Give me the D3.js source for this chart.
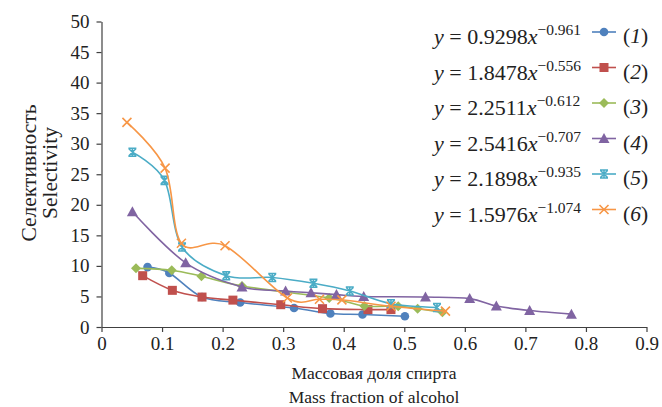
<!DOCTYPE html>
<html><head><meta charset="utf-8">
<script src="https://cdn.jsdelivr.net/npm/d3@7"></script>
<style>body{margin:0;background:#fff}svg{display:block}</style>
</head><body>
<svg id="c" width="662" height="407"></svg>
<script>
const xTicks = [0,0.1,0.2,0.3,0.4,0.5,0.6,0.7,0.8,0.9];
const yTicks = [0,5,10,15,20,25,30,35,40,45,50];
const s1x = [0.076,0.112,0.166,0.229,0.318,0.378,0.431,0.501];
const s1y = [9.8,8.85,4.9,4.0,3.1,2.2,2.05,1.75];
const s2x = [0.068,0.117,0.166,0.217,0.296,0.365,0.44,0.478];
const s2y = [8.4,6.0,4.9,4.4,3.65,3.0,2.85,2.85];
const s3x = [0.057,0.116,0.165,0.232,0.376,0.434,0.49,0.522,0.563];
const s3y = [9.6,9.3,8.3,6.7,4.75,3.45,3.4,3.0,2.4];
const s4x = [0.051,0.139,0.232,0.304,0.346,0.388,0.433,0.535,0.608,0.652,0.707,0.776];
const s4y = [18.85,10.5,6.55,5.9,5.6,5.3,5.0,4.9,4.65,3.45,2.7,2.1];
const s5x = [0.051,0.104,0.133,0.206,0.282,0.35,0.41,0.478,0.554];
const s5y = [28.6,24.0,13.1,8.4,8.1,7.15,5.9,3.8,3.2];
const s6x = [0.042,0.105,0.132,0.204,0.307,0.36,0.397,0.478,0.568];
const s6y = [33.5,26.0,13.7,13.3,4.75,4.55,4.45,3.4,2.6];
const coefs = ["0.9298","1.8478","2.2511","2.5416","2.1898","1.5976"];
const exps = ["−0.961","−0.556","−0.612","−0.707","−0.935","−1.074"];
const labels = ["1","2","3","4","5","6"];
const colors = ["#4F81BD","#C0504D","#9BBB59","#8064A2","#4BACC6","#F79646"];
const markers = ["circle","square","diamond","triangle","asterisk","cross"];
const xs = [s1x,s2x,s3x,s4x,s5x,s6x], ys = [s1y,s2y,s3y,s4y,s5y,s6y];

const svg = d3.select("#c");
const font = "'Liberation Serif','Times New Roman',serif";
const x = d3.scaleLinear().domain([0,0.9]).range([101.5,646.5]);
const y = d3.scaleLinear().domain([0,50]).range([327,21.5]);

const gx = svg.append("g").attr("transform","translate(0,327)")
  .call(d3.axisBottom(x).tickValues(xTicks).tickFormat(d=>d===0?"0":d3.format(".1f")(d)).tickSize(5).tickSizeOuter(0));
const gy = svg.append("g").attr("transform","translate(101.5,0)")
  .call(d3.axisLeft(y).tickValues(yTicks).tickSize(5).tickSizeOuter(0));
[gx,gy].forEach(g=>{
  g.selectAll("path,line").attr("stroke","#404040").attr("stroke-width",1.2);
  g.selectAll("text").attr("font-family",font).attr("font-size",19).attr("fill","#222");
});
gx.selectAll("text").attr("dy","0.8em");
gy.selectAll("text").attr("x",-12);

function marker(g, type, cx, cy, col){
  if(type==="circle") g.append("circle").attr("cx",cx).attr("cy",cy).attr("r",4.3).attr("fill",col);
  else if(type==="square") g.append("rect").attr("x",cx-4.5).attr("y",cy-4.5).attr("width",9).attr("height",9).attr("fill",col);
  else if(type==="diamond") g.append("path").attr("d",`M${cx},${cy-5}L${cx+5},${cy}L${cx},${cy+5}L${cx-5},${cy}Z`).attr("fill",col);
  else if(type==="triangle") g.append("path").attr("d",`M${cx},${cy-5.5}L${cx+5.5},${cy+4.5}L${cx-5.5},${cy+4.5}Z`).attr("fill",col);
  else if(type==="asterisk"){
    g.append("path").attr("d",`M${cx-3.5},${cy-3.5}L${cx+3.5},${cy+3.5}M${cx-3.5},${cy+3.5}L${cx+3.5},${cy-3.5}M${cx},${cy-4.5}L${cx},${cy+4.5}M${cx-4},${cy-4}L${cx+4},${cy-4}M${cx-4},${cy+4}L${cx+4},${cy+4}`)
      .attr("stroke",col).attr("stroke-width",1.6).attr("fill","none");
  } else if(type==="cross"){
    g.append("path").attr("d",`M${cx-4.5},${cy-4.5}L${cx+4.5},${cy+4.5}M${cx-4.5},${cy+4.5}L${cx+4.5},${cy-4.5}`)
      .attr("stroke",col).attr("stroke-width",1.6).attr("fill","none");
  }
}

const line = d3.line().x(d=>x(d[0])).y(d=>y(d[1])).curve(d3.curveCatmullRom.alpha(0));
xs.forEach((sx,i)=>{
  const pts = sx.map((v,j)=>[v,ys[i][j]]);
  const g = svg.append("g");
  g.append("path").attr("d",line(pts)).attr("fill","none").attr("stroke",colors[i]).attr("stroke-width",1.6);
  pts.forEach(p=>marker(g,markers[i],x(p[0]),y(p[1]),colors[i]));
});

// legend
const legY = [32,67.5,103,138.5,174,209.5];
coefs.forEach((c,i)=>{
  const t = svg.append("text").attr("x",434).attr("y",legY[i]+12).attr("font-family",font).attr("font-size",22).attr("fill","#222");
  t.append("tspan").attr("font-style","italic").text("y");
  t.append("tspan").text(" = "+c);
  t.append("tspan").attr("font-style","italic").text("x");
  t.append("tspan").attr("font-size",15.5).attr("dy",-9).text(exps[i]);
  const g = svg.append("g");
  g.append("line").attr("x1",592).attr("x2",616).attr("y1",legY[i]).attr("y2",legY[i]).attr("stroke",colors[i]).attr("stroke-width",1.6);
  marker(g,markers[i],604,legY[i],colors[i]);
  const l = svg.append("text").attr("x",623).attr("y",legY[i]+11).attr("font-family",font).attr("font-size",21.5).attr("fill","#222");
  l.append("tspan").text("(");
  l.append("tspan").attr("font-style","italic").text(labels[i]);
  l.append("tspan").text(")");
});

// axis titles
svg.append("text").attr("x",374).attr("y",379).attr("text-anchor","middle").attr("font-family",font).attr("font-size",17.5).attr("fill","#222").text("Массовая доля спирта");
svg.append("text").attr("x",374).attr("y",403).attr("text-anchor","middle").attr("font-family",font).attr("font-size",17.5).attr("fill","#222").text("Mass fraction of alcohol");
svg.append("text").attr("transform","translate(36,173) rotate(-90)").attr("text-anchor","middle").attr("font-family",font).attr("font-size",21.5).attr("fill","#222").text("Селективность");
svg.append("text").attr("transform","translate(57,173) rotate(-90)").attr("text-anchor","middle").attr("font-family",font).attr("font-size",21.5).attr("fill","#222").text("Selectivity");
</script>
</body></html>
